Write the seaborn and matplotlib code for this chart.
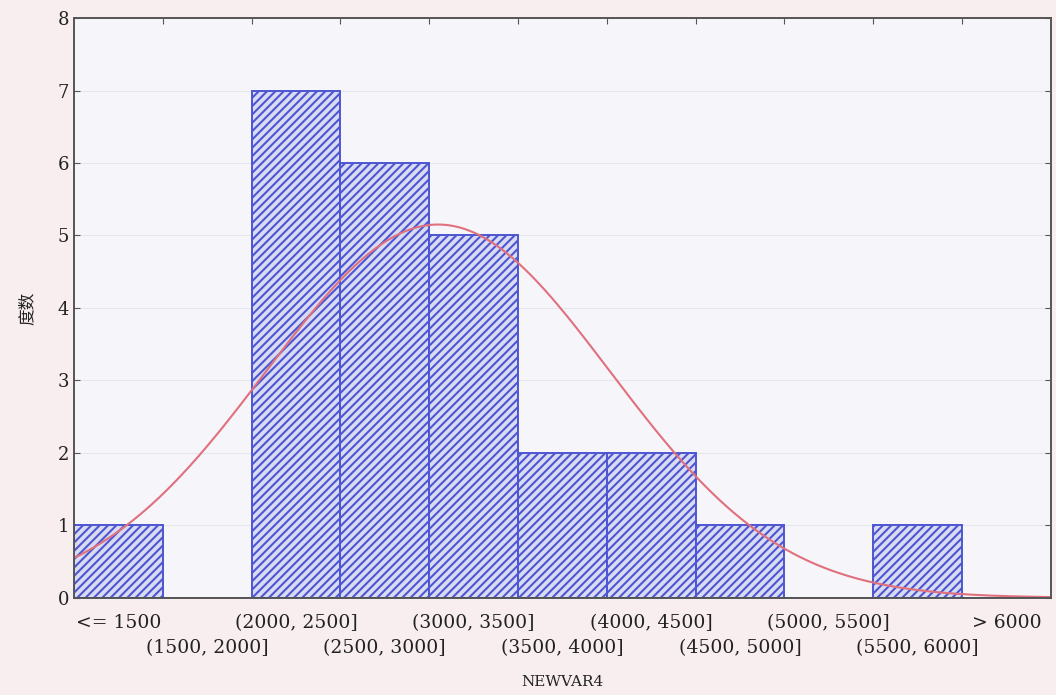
import numpy as np
import pandas as pd
import seaborn as sns
import matplotlib.pyplot as plt

# Histogramm NEWVAR4 mit Normalverteilungskurve
bins = ["<= 1500", "(1500, 2000]", "(2000, 2500]", "(2500, 3000]", "(3000, 3500]",
        "(3500, 4000]", "(4000, 4500]", "(4500, 5000]", "(5000, 5500]",
        "(5500, 6000]", "> 6000"]
counts = [1, 0, 7, 6, 5, 2, 2, 1, 0, 1, 0]
bin_mid = [1250, 1750, 2250, 2750, 3250, 3750, 4250, 4750, 5250, 5750, 6250]
bin_width = 500
x_start = 1000  # linke Kante der ersten Klasse
x_end = 6500

sns.set_style("ticks")
plt.rcParams["font.family"] = ["DejaVu Serif", "Noto Sans CJK SC"]
plt.rcParams["hatch.linewidth"] = 1.5

df = pd.DataFrame({"bin": bins, "count": counts})

fig = plt.figure(figsize=(10.56, 6.95), dpi=100, facecolor="#f8eef0")
ax = fig.add_axes([0.070, 0.140, 0.925, 0.834])
ax.set_facecolor("#f6f6fa")

bar = sns.barplot(x="bin", y="count", data=df, ax=ax, width=1.0,
                  color="#d4d7f6", edgecolor="#4d56d2", linewidth=1.4)
for p in bar.patches:
    p.set_hatch("////")

# Normalkurve aus den Klassendaten
cnt = np.array(counts)
mid = np.array(bin_mid)
n = cnt.sum()
mean = (cnt * mid).sum() / n
sd = np.sqrt((cnt * (mid - mean) ** 2).sum() / (n - 1))
xv = np.linspace(x_start, x_end, 300)
yv = n * bin_width / (sd * np.sqrt(2 * np.pi)) * np.exp(-0.5 * ((xv - mean) / sd) ** 2)
pos = (xv - x_start) / bin_width - 0.5
sns.lineplot(x=pos, y=yv, ax=ax, color="#e0707e", linewidth=1.5)

ax.set_xlim(-0.5, len(bins) - 0.5)
ax.set_ylim(0, 8)
ax.set_yticks(range(0, 9))

# Beschriftung in zwei Reihen: gerade oben, ungerade darunter
idx = np.arange(len(bins))
ax.set_xticks(idx[::2])
ax.set_xticklabels(bins[::2], fontsize=13.5, color="#222222")
ax.set_xticks(idx[1::2], minor=True)
ax.set_xticklabels(bins[1::2], minor=True, fontsize=13.5, color="#222222")
ax.tick_params(axis="x", which="major", length=0, pad=12)
ax.tick_params(axis="x", which="minor", length=0, pad=30)

top = ax.secondary_xaxis("top")
top.set_xticks(np.arange(0.5, len(bins) - 1))
top.set_xticklabels([])
top.tick_params(direction="in", length=4, color="#555555")
top.spines["top"].set_visible(False)

ax.tick_params(axis="y", direction="in", length=4, right=True, labelsize=13, color="#555555", labelcolor="#222222")

ax.grid(axis="y", color="#e6e6ee", linewidth=0.8)
ax.set_axisbelow(True)
for s in ax.spines.values():
    s.set_color("#555555")
    s.set_linewidth(1.4)

ax.set_xlabel("NEWVAR4", fontsize=11, color="#222222", va="center")
ax.xaxis.set_label_coords(0.5, -0.145)
ax.set_ylabel("度数", fontsize=12, color="#222222", family=["Noto Sans CJK SC", "DejaVu Sans"], labelpad=16)

plt.savefig("out.png", dpi=100, facecolor=fig.get_facecolor())
